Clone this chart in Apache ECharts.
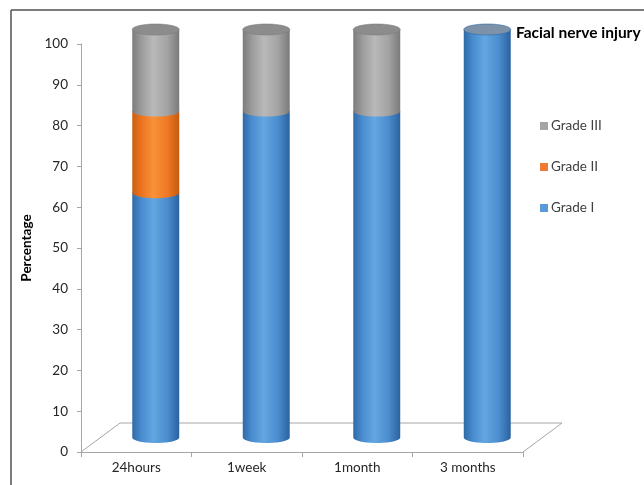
<!DOCTYPE html>
<html>
<head>
<meta charset="utf-8">
<title>Facial nerve injury</title>
<script src="https://cdn.jsdelivr.net/npm/echarts@6/dist/echarts.min.js"></script>
<style>
  html, body { margin: 0; padding: 0; background: #ffffff; }
  #chart { width: 644px; height: 485px; }
</style>
</head>
<body>
<div id="chart"></div>
<script>
// Time points after surgery
const categories = ['24hours', '1week', '1month', '3 months'];
// Percentage of patients per grade (stacked)
const gradeI = [60, 80, 80, 100];
const gradeII = [20, 0, 0, 0];
const gradeIII = [20, 20, 20, 0];
const yTicks = [0, 10, 20, 30, 40, 50, 60, 70, 80, 90, 100];

const FONT = 'Lato, "Noto Sans", sans-serif';
// Fake 3D: floor depth and the cylinder offset (centre of the depth)
const DEPTH_X = 39, DEPTH_Y = -29;
const OFF_X = DEPTH_X / 2, OFF_Y = DEPTH_Y / 2;

const palette = {
  'Grade I':   { legend: '#5b9bd5', stops: ['#2f6aa6', '#4a8dd0', '#63a6e2', '#4a8ccd', '#2b62a0'], top: '#7d92a8' },
  'Grade II':  { legend: '#ed7d31', stops: ['#c95e12', '#ec7420', '#f89238', '#ee7824', '#c45a10'], top: '#d9782e' },
  'Grade III': { legend: '#a5a5a5', stops: ['#7c7c7c', '#9c9c9c', '#b9b9b9', '#a3a3a3', '#7a7a7a'], top: '#8c8c8c' }
};

// Stacked segments: [categoryIndex, base, top, isTopmost]
const stackOrder = [['Grade I', gradeI], ['Grade II', gradeII], ['Grade III', gradeIII]];
const segments = {};
const running = categories.map(() => 0);
const topSeries = categories.map((_, i) => {
  let last = null;
  stackOrder.forEach(([name, arr]) => { if (arr[i] > 0) last = name; });
  return last;
});
stackOrder.forEach(([name, arr]) => {
  segments[name] = arr.map((v, i) => {
    const base = running[i];
    running[i] += v;
    return [i, base, base + v, topSeries[i] === name ? 1 : 0];
  });
});

function halfEllipse(cx, cy, rx, ry, n) {
  const pts = [];
  for (let k = 0; k <= n; k++) {
    const a = Math.PI - Math.PI * k / n;
    pts.push([cx + rx * Math.cos(a), cy + ry * Math.sin(a)]);
  }
  return pts;
}

function cylinderRenderer(name) {
  const pal = palette[name];
  return function (params, api) {
    const ci = api.value(0), b = api.value(1), t = api.value(2), isTop = api.value(3);
    if (!(t > b)) return null;
    const p0 = api.coord([ci, b]);
    const p1 = api.coord([ci, t]);
    const bw = api.size([1, 0])[0] * 0.425;
    const rx = bw / 2, ry = 5.5;
    const cx = p0[0] + OFF_X;
    const yb = p0[1] + OFF_Y;
    const yt = p1[1] + OFF_Y;
    const pts = [[cx - rx, yt]].concat(halfEllipse(cx, yb, rx, ry, 40)).concat([[cx + rx, yt]]);
    const grad = new echarts.graphic.LinearGradient(0, 0, 1, 0, [
      { offset: 0, color: pal.stops[0] },
      { offset: 0.2, color: pal.stops[1] },
      { offset: 0.45, color: pal.stops[2] },
      { offset: 0.75, color: pal.stops[3] },
      { offset: 1, color: pal.stops[4] }
    ]);
    const children = [{
      type: 'polygon',
      shape: { points: pts },
      style: { fill: grad, stroke: null }
    }];
    if (isTop) {
      children.push({
        type: 'ellipse',
        shape: { cx: cx, cy: yt, rx: rx, ry: ry },
        style: { fill: pal.top, stroke: pal.stops[0], lineWidth: 0.6 }
      });
    }
    return { type: 'group', children: children };
  };
}

const chart = echarts.init(document.getElementById('chart'), null, { renderer: 'canvas' });

const series = [{
  name: 'floor',
  type: 'custom',
  z: 1,
  silent: true,
  data: [[0, 0]],
  renderItem: function (params, api) {
    const cs = params.coordSys;
    const x0 = cs.x, x1 = cs.x + cs.width, y0 = cs.y + cs.height;
    return {
      type: 'polyline',
      shape: { points: [[x0, y0], [x0 + DEPTH_X, y0 + DEPTH_Y], [x1 + DEPTH_X, y0 + DEPTH_Y], [x1, y0]] },
      style: { stroke: '#a6a6a6', lineWidth: 1, fill: null }
    };
  }
}];
stackOrder.forEach(([name]) => {
  series.push({
    name: name,
    type: 'custom',
    z: 3,
    itemStyle: { color: palette[name].legend },
    encode: { x: 0, y: [1, 2] },
    data: segments[name],
    renderItem: cylinderRenderer(name)
  });
});

chart.setOption({
  animation: false,
  backgroundColor: '#ffffff',
  title: {
    text: 'Facial nerve injury',
    left: 511,
    top: 20,
    textStyle: { fontFamily: FONT, fontWeight: 'bold', fontSize: 15.5, color: '#000000' }
  },
  legend: {
    orient: 'vertical',
    left: 535,
    top: 114,
    itemWidth: 8,
    itemHeight: 8,
    itemGap: 27,
    icon: 'rect',
    data: ['Grade III', 'Grade II', 'Grade I'],
    textStyle: { fontFamily: FONT, fontSize: 13.5, color: '#404040', padding: [0, 0, 0, -2] }
  },
  grid: { left: 81, top: 44, right: 121, bottom: 33, containLabel: false },
  xAxis: {
    type: 'category',
    data: categories,
    boundaryGap: true,
    axisLine: { show: true, lineStyle: { color: '#a6a6a6', width: 1 } },
    axisTick: { show: true, length: 5, alignWithLabel: false, lineStyle: { color: '#a6a6a6' } },
    axisLabel: { margin: 9, fontFamily: FONT, fontSize: 13.5, color: '#262626' }
  },
  yAxis: {
    type: 'value',
    min: yTicks[0],
    max: yTicks[yTicks.length - 1],
    interval: yTicks[1] - yTicks[0],
    name: 'Percentage',
    nameLocation: 'middle',
    nameRotate: 90,
    nameGap: 46,
    nameTextStyle: { fontFamily: FONT, fontWeight: 'bold', fontSize: 13.5, color: '#000000' },
    axisLine: { show: true, lineStyle: { color: '#a6a6a6', width: 1 } },
    axisTick: { show: true, length: 4, inside: false, lineStyle: { color: '#a6a6a6' } },
    splitLine: { show: false },
    axisLabel: { margin: 13, fontFamily: FONT, fontSize: 13.5, color: '#262626' }
  },
  graphic: [
    { type: 'line', shape: { x1: 11, y1: 10, x2: 644, y2: 10 }, style: { stroke: '#505050', lineWidth: 1.5 }, silent: true },
    { type: 'line', shape: { x1: 11, y1: 10, x2: 11, y2: 485 }, style: { stroke: '#505050', lineWidth: 1.5 }, silent: true }
  ],
  series: series
});
</script>
</body>
</html>
